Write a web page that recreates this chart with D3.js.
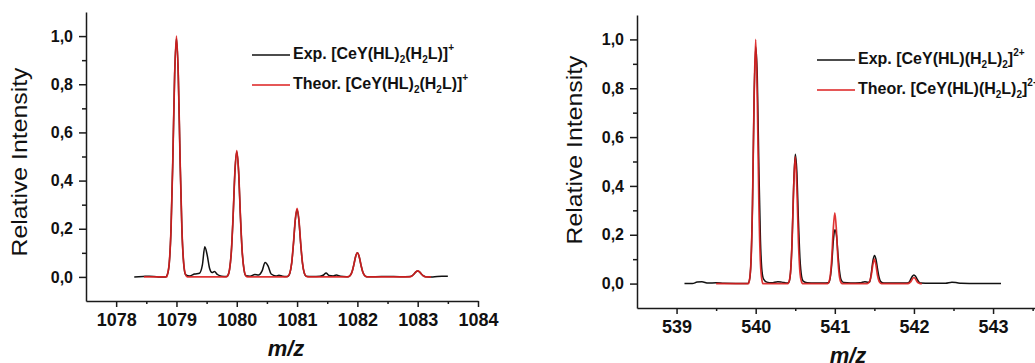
<!DOCTYPE html>
<html>
<head>
<meta charset="utf-8">
<script src="https://cdn.jsdelivr.net/npm/d3@7"></script>
<style>
  body { margin: 0; background: #fff; }
  svg { display: block; }
</style>
</head>
<body>
<svg width="1035" height="363"></svg>
<script>
// experimental and theoretical isotope patterns, [m/z, relative intensity]
const expLeft = [
  [1078.30,0.000],[1078.45,0.002],[1078.55,0.003],[1078.70,0.000],[1078.82,0.000],
  [1078.85,0.010],[1078.88,0.055],[1078.91,0.200],[1078.94,0.490],[1078.97,0.840],[1079.00,0.990],
  [1079.03,0.840],[1079.06,0.490],[1079.09,0.200],[1079.12,0.055],[1079.15,0.010],
  [1079.22,0.004],[1079.30,0.012],[1079.38,0.015],[1079.43,0.050],[1079.47,0.125],[1079.51,0.090],
  [1079.55,0.035],[1079.59,0.018],[1079.63,0.022],[1079.68,0.010],[1079.75,0.003],[1079.83,0.002],
  [1079.85,0.005],[1079.88,0.030],[1079.91,0.105],[1079.94,0.255],[1079.97,0.440],[1080.00,0.520],
  [1080.03,0.440],[1080.06,0.255],[1080.09,0.105],[1080.12,0.030],[1080.15,0.005],
  [1080.22,0.003],[1080.30,0.010],[1080.36,0.008],[1080.42,0.025],[1080.47,0.060],[1080.52,0.045],
  [1080.57,0.012],[1080.65,0.004],[1080.70,0.007],[1080.76,0.003],[1080.83,0.002],
  [1080.85,0.003],[1080.88,0.015],[1080.91,0.056],[1080.94,0.137],[1080.97,0.235],[1081.00,0.280],
  [1081.03,0.235],[1081.06,0.137],[1081.09,0.056],[1081.12,0.015],[1081.15,0.003],
  [1081.25,0.002],[1081.38,0.003],[1081.44,0.008],[1081.48,0.016],[1081.53,0.006],[1081.60,0.004],
  [1081.65,0.008],[1081.72,0.003],[1081.82,0.001],
  [1081.85,0.001],[1081.88,0.006],[1081.91,0.020],[1081.94,0.049],[1081.97,0.084],[1082.00,0.100],
  [1082.03,0.084],[1082.06,0.049],[1082.09,0.020],[1082.12,0.006],[1082.15,0.001],
  [1082.30,0.001],[1082.50,0.002],[1082.70,0.001],[1082.88,0.002],
  [1082.91,0.005],[1082.94,0.012],[1082.97,0.021],[1083.00,0.025],[1083.03,0.021],[1083.06,0.012],
  [1083.09,0.005],[1083.13,0.001],[1083.25,0.000],[1083.40,0.003],[1083.50,0.003]
];
const theorLeft = [
  [1078.46,0.000],[1078.84,0.000],
  [1078.85,0.010],[1078.88,0.056],[1078.91,0.200],[1078.94,0.490],[1078.97,0.840],[1079.00,1.000],
  [1079.03,0.840],[1079.06,0.490],[1079.09,0.200],[1079.12,0.056],[1079.15,0.010],[1079.18,0.000],
  [1079.82,0.000],
  [1079.85,0.005],[1079.88,0.030],[1079.91,0.105],[1079.94,0.257],[1079.97,0.441],[1080.00,0.525],
  [1080.03,0.441],[1080.06,0.257],[1080.09,0.105],[1080.12,0.030],[1080.15,0.005],[1080.18,0.000],
  [1080.82,0.000],
  [1080.85,0.003],[1080.88,0.016],[1080.91,0.057],[1080.94,0.140],[1080.97,0.239],[1081.00,0.285],
  [1081.03,0.239],[1081.06,0.140],[1081.09,0.057],[1081.12,0.016],[1081.15,0.003],[1081.18,0.000],
  [1081.82,0.000],
  [1081.85,0.001],[1081.88,0.006],[1081.91,0.020],[1081.94,0.049],[1081.97,0.084],[1082.00,0.100],
  [1082.03,0.084],[1082.06,0.049],[1082.09,0.020],[1082.12,0.006],[1082.15,0.001],[1082.18,0.000],
  [1082.86,0.000],
  [1082.91,0.005],[1082.94,0.012],[1082.97,0.021],[1083.00,0.025],[1083.03,0.021],[1083.06,0.012],
  [1083.09,0.005],[1083.13,0.000],[1083.22,0.000]
];
const expRight = [
  [539.10,0.000],[539.20,0.000],[539.26,0.006],[539.32,0.007],[539.40,0.002],[539.50,0.003],
  [539.60,0.001],[539.90,0.000],
  [539.92,0.012],[539.94,0.085],[539.96,0.330],[539.98,0.760],[540.00,0.970],[540.02,0.850],
  [540.04,0.480],[540.06,0.180],[540.08,0.050],[540.10,0.018],[540.14,0.006],[540.20,0.003],
  [540.28,0.008],[540.33,0.006],[540.40,0.002],
  [540.42,0.006],[540.44,0.045],[540.46,0.175],[540.48,0.400],[540.50,0.530],[540.52,0.460],
  [540.54,0.260],[540.56,0.100],[540.58,0.030],[540.60,0.010],[540.65,0.003],[540.75,0.002],
  [540.85,0.002],
  [540.92,0.003],[540.94,0.020],[540.96,0.075],[540.98,0.170],[541.00,0.220],[541.02,0.200],
  [541.04,0.120],[541.06,0.050],[541.08,0.015],[541.11,0.004],[541.20,0.002],[541.32,0.003],
  [541.38,0.008],[541.42,0.005],
  [541.44,0.006],[541.46,0.040],[541.48,0.090],[541.50,0.115],[541.52,0.100],[541.54,0.060],
  [541.56,0.025],[541.58,0.008],[541.62,0.002],[541.75,0.002],[541.90,0.002],
  [541.94,0.006],[541.96,0.018],[541.98,0.030],[542.00,0.035],[542.02,0.030],[542.04,0.018],
  [542.06,0.008],[542.09,0.002],[542.20,0.001],[542.40,0.001],[542.48,0.005],[542.53,0.004],
  [542.60,0.001],[542.80,0.000],[543.10,0.000]
];
const theorRight = [
  [539.50,0.000],[539.91,0.000],
  [539.92,0.012],[539.94,0.085],[539.96,0.330],[539.98,0.760],[540.00,1.000],[540.02,0.760],
  [540.04,0.330],[540.06,0.085],[540.08,0.012],[540.09,0.000],
  [540.41,0.000],
  [540.42,0.006],[540.44,0.044],[540.46,0.172],[540.48,0.395],[540.50,0.520],[540.52,0.395],
  [540.54,0.172],[540.56,0.044],[540.58,0.006],[540.59,0.000],
  [540.91,0.000],
  [540.92,0.003],[540.94,0.025],[540.96,0.096],[540.98,0.220],[541.00,0.290],[541.02,0.220],
  [541.04,0.096],[541.06,0.025],[541.08,0.003],[541.09,0.000],
  [541.41,0.000],
  [541.42,0.001],[541.44,0.009],[541.46,0.033],[541.48,0.076],[541.50,0.100],[541.52,0.076],
  [541.54,0.033],[541.56,0.009],[541.58,0.001],[541.59,0.000],
  [541.91,0.000],
  [541.94,0.002],[541.96,0.008],[541.98,0.019],[542.00,0.025],[542.02,0.019],[542.04,0.008],
  [542.06,0.002],[542.08,0.000],[542.10,0.000]
];

const xTicksLeft = [1078, 1079, 1080, 1081, 1082, 1083, 1084];
const xMinorLeft = [1078.5, 1079.5, 1080.5, 1081.5, 1082.5, 1083.5];
const xTicksRight = [539, 540, 541, 542, 543];
const xMinorRight = [539.5, 540.5, 541.5, 542.5, 543.5];
const yTicks = [0, 0.2, 0.4, 0.6, 0.8, 1.0];
const yMinor = [0.1, 0.3, 0.5, 0.7, 0.9];

// legend labels: [text, "n" | "sub" | "sup"]
const legendLeftExp = [["Exp. [CeY(HL)","n"],["2","sub"],["(H","n"],["2","sub"],["L)]","n"],["+","sup"]];
const legendLeftTheor = [["Theor. [CeY(HL)","n"],["2","sub"],["(H","n"],["2","sub"],["L)]","n"],["+","sup"]];
const legendRightExp = [["Exp. [CeY(HL)(H","n"],["2","sub"],["L)","n"],["2","sub"],["]","n"],["2+","sup"]];
const legendRightTheor = [["Theor. [CeY(HL)(H","n"],["2","sub"],["L)","n"],["2","sub"],["]","n"],["2+","sup"]];

const RED = "#dc1f1f";
const AXIS = "#1a1a1a";
const FONT = "'Liberation Sans', Arial, sans-serif";

const svg = d3.select("svg");
const comma = d3.formatLocale({decimal: ",", thousands: ".", grouping: [3], currency: ["", ""]}).format(".1f");

function legendText(g, x, y, parts) {
    const t = g.append("text")
        .attr("x", x).attr("y", y)
        .attr("dominant-baseline", "middle")
        .style("font-family", FONT)
        .style("font-weight", "bold")
        .style("font-size", "16px")
        .attr("fill", "#111");
    let shift = 0;
    parts.forEach(([s, kind]) => {
        const target = kind === "sub" ? 5 : kind === "sup" ? -7 : 0;
        t.append("tspan")
            .attr("dy", target - shift)
            .style("font-size", kind === "n" ? "16px" : "10px")
            .text(s);
        shift = target;
    });
}

function drawPanel(p) {
    const x = d3.scaleLinear().domain(p.xDomain).range([p.left, p.right]);
    const y = d3.scaleLinear().domain([-0.1, 1.1]).range([p.bottom, p.top]);
    const g = svg.append("g");

    const line = d3.line()
        .x(d => x(d[0]))
        .y(d => y(d[1]))
        .curve(d3.curveMonotoneX);

    g.append("path").datum(p.exp)
        .attr("fill", "none").attr("stroke", "#111").attr("stroke-width", 1.5)
        .attr("d", line);
    g.append("path").datum(p.theor)
        .attr("fill", "none").attr("stroke", RED).attr("stroke-width", 1.7)
        .attr("stroke-opacity", 0.9)
        .attr("d", line);

    // y axis
    const yAxis = g.append("g").attr("transform", `translate(${p.left},0)`)
        .call(d3.axisLeft(y).tickValues(yTicks).tickFormat(comma).tickSize(7).tickSizeOuter(0).tickPadding(6));
    g.append("g").attr("transform", `translate(${p.left},0)`)
        .call(d3.axisLeft(y).tickValues(yMinor).tickFormat("").tickSize(4).tickSizeOuter(0))
        .select(".domain").remove();
    yAxis.selectAll("text")
        .style("font-family", FONT).style("font-weight", "bold").style("font-size", "16px")
        .attr("fill", "#111");

    // x axis
    const xAxis = g.append("g").attr("transform", `translate(0,${p.bottom})`)
        .call(d3.axisBottom(x).tickValues(p.xTicks).tickFormat(d3.format("d")).tickSize(6).tickSizeOuter(0).tickPadding(6));
    g.append("g").attr("transform", `translate(0,${p.bottom})`)
        .call(d3.axisBottom(x).tickValues(p.xMinor).tickFormat("").tickSize(3).tickSizeOuter(0))
        .select(".domain").remove();
    xAxis.selectAll("text")
        .style("font-family", FONT).style("font-weight", "bold").style("font-size", "18px")
        .attr("fill", "#111");

    g.selectAll(".domain, .tick line").attr("stroke", AXIS).attr("stroke-width", 1.5);

    // axis titles
    g.append("text")
        .attr("transform", `translate(${p.yTitleX},${p.yTitleY}) rotate(-90)`)
        .attr("text-anchor", "middle")
        .attr("textLength", 189).attr("lengthAdjust", "spacingAndGlyphs")
        .style("font-family", FONT).style("font-size", "22px")
        .attr("fill", "#111")
        .text("Relative Intensity");
    g.append("text")
        .attr("x", p.xTitleX).attr("y", p.xTitleY)
        .attr("text-anchor", "middle")
        .style("font-family", FONT).style("font-size", "22px")
        .style("font-weight", "bold").style("font-style", "italic")
        .attr("fill", "#111")
        .text("m/z");

    // legend
    p.legend.forEach((item, i) => {
        const ly = p.legendY + i * 30;
        g.append("line")
            .attr("x1", p.legendX).attr("x2", p.legendX + 38)
            .attr("y1", ly).attr("y2", ly)
            .attr("stroke", item.color).attr("stroke-width", 1.5);
        legendText(g, p.legendX + 41, ly, item.parts);
    });
}

drawPanel({
    xDomain: [1077.5, 1084], left: 86, right: 478, top: 12, bottom: 301,
    exp: expLeft, theor: theorLeft, xTicks: xTicksLeft, xMinor: xMinorLeft,
    yTitleX: 27, yTitleY: 162, xTitleX: 286, xTitleY: 356,
    legendX: 252, legendY: 55,
    legend: [{color: "#111", parts: legendLeftExp}, {color: RED, parts: legendLeftTheor}]
});

drawPanel({
    xDomain: [538.5, 543.53], left: 637, right: 1035, top: 15, bottom: 308,
    exp: expRight, theor: theorRight, xTicks: xTicksRight, xMinor: xMinorRight,
    yTitleX: 582, yTitleY: 150, xTitleX: 848, xTitleY: 363,
    legendX: 817, legendY: 60,
    legend: [{color: "#111", parts: legendRightExp}, {color: RED, parts: legendRightTheor}]
});
</script>
</body>
</html>
